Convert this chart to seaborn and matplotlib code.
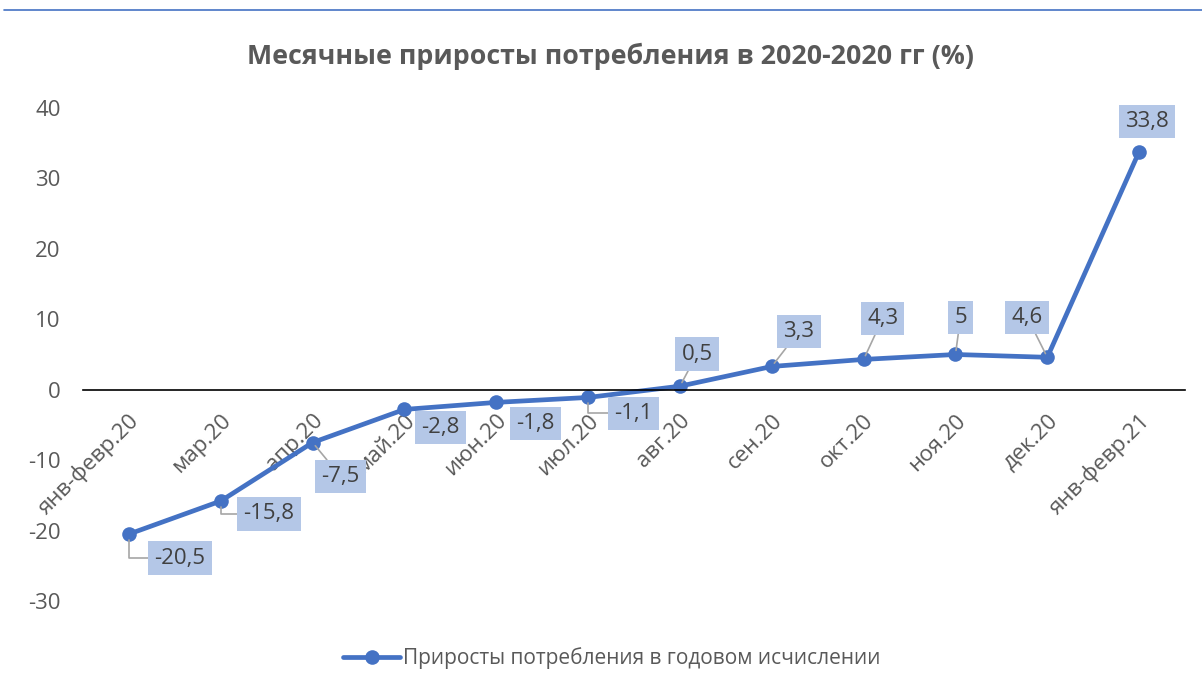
import numpy as np
import pandas as pd
import matplotlib
matplotlib.use("Agg")
import matplotlib.pyplot as plt
import matplotlib.transforms as mtransforms
from matplotlib.lines import Line2D
import seaborn as sns

# ---- data ----
categories = ["янв-февр.20", "мар.20", "апр.20", "май.20", "июн.20", "июл.20",
              "авг.20", "сен.20", "окт.20", "ноя.20", "дек.20", "янв-февр.21"]
values = [-20.5, -15.8, -7.5, -2.8, -1.8, -1.1, 0.5, 3.3, 4.3, 5.0, 4.6, 33.8]
value_labels = ["-20,5", "-15,8", "-7,5", "-2,8", "-1,8", "-1,1", "0,5", "3,3", "4,3", "5", "4,6", "33,8"]
series_name = "Приросты потребления в годовом исчислении"
title = "Месячные приросты потребления в 2020-2020 гг (%)"
y_ticks = [-30, -20, -10, 0, 10, 20, 30, 40]

# label offsets (pixels) and leader style
label_offsets = [(51, -24), (48, -13), (28, -34), (36, -18), (39, -21), (45, -16),
                 (17, 32), (27, 35), (19, 41), (5, 37), (-20, 40), (8, 30)]
leader = ["elbow", "elbow", "line", None, None, "elbow", "line", "line", "line", "line", "line", None]

sns.set_theme(style="white")
plt.rcParams["font.family"] = ["Open Sans", "DejaVu Sans"]

BLUE = "#4472C4"
GRAY = "#595959"
DARK = "#404040"
BOX = "#B4C7E7"

fig = plt.figure(figsize=(12.02, 6.90), dpi=100)
ax = fig.add_axes([0.0691, 0.1290, 0.9168, 0.7145])

df = pd.DataFrame({"x": np.arange(len(categories)), "y": values, "s": series_name})
sns.lineplot(data=df, x="x", y="y", hue="s", palette=[BLUE], marker="o",
             markersize=10.5, markeredgewidth=0, linewidth=3.4, ax=ax)

ax.set_xlim(-0.5, len(categories) - 0.5)
ax.set_ylim(-30, 40)
ax.set_yticks(y_ticks)
ax.set_yticklabels([str(t) for t in y_ticks])
ax.tick_params(axis="y", length=0, pad=16, labelsize=16, labelcolor=GRAY)
ax.set_xlabel("")
ax.set_ylabel("")

for s in ["top", "right", "left"]:
    ax.spines[s].set_visible(False)
ax.spines["bottom"].set_position(("data", 0))
ax.spines["bottom"].set_color("black")
ax.spines["bottom"].set_linewidth(1.2)

ax.set_xticks(np.arange(len(categories)))
ax.set_xticklabels(categories, rotation=45, ha="right", va="center",
                   rotation_mode="anchor")
ax.tick_params(axis="x", length=0, pad=20, labelsize=16, labelcolor=GRAY)
offset = mtransforms.ScaledTranslation(7 / 100, 0, fig.dpi_scale_trans)
for lab in ax.get_xticklabels():
    lab.set_transform(lab.get_transform() + offset)

# data labels
for i, (v, txt) in enumerate(zip(values, value_labels)):
    dx, dy = label_offsets[i]
    ap = None
    if leader[i] == "elbow":
        ap = dict(arrowstyle="-", color="#A6A6A6", lw=1.2, shrinkA=0, shrinkB=4,
                  connectionstyle="angle,angleA=0,angleB=90,rad=0")
    elif leader[i] == "line":
        ap = dict(arrowstyle="-", color="#A6A6A6", lw=1.2, shrinkA=0, shrinkB=3)
    ax.annotate(txt, xy=(i, v), xytext=(dx, dy), textcoords="offset pixels",
                ha="center", va="center", fontsize=16, color=DARK,
                bbox=dict(boxstyle="square,pad=0.28", fc=BOX, ec="none"),
                arrowprops=ap, zorder=5)

# legend
ax.legend_.remove()
handle = Line2D([], [], color=BLUE, lw=3.4, marker="o", markersize=10.5, markeredgewidth=0)
fig.legend([handle], [series_name], loc="center", bbox_to_anchor=(0.509, 0.046),
           frameon=False, fontsize=15, labelcolor=GRAY, handlelength=2.7,
           handletextpad=0.15)

fig.text(0.508, 0.919, title, ha="center", va="center", fontsize=19.3,
         fontweight="bold", color=GRAY)

fig.add_artist(Line2D([0.003, 1.0], [0.986, 0.986], transform=fig.transFigure,
                      color=BLUE, lw=1.2))

fig.savefig("out.png", dpi=100)
